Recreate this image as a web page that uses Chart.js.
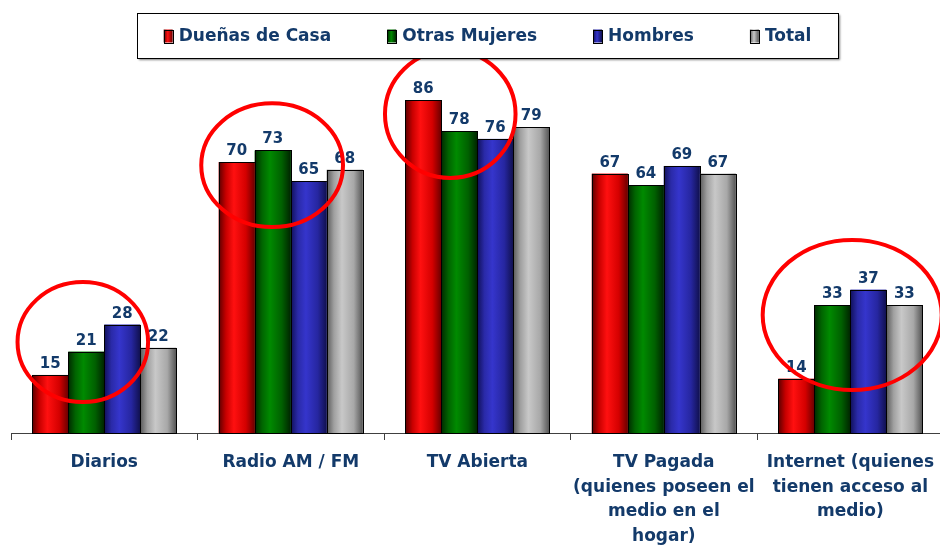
<!DOCTYPE html>
<html lang="es">
<head>
    <meta charset="UTF-8">
    <title>Medios por segmento</title>
    <script src="https://cdn.jsdelivr.net/npm/chart.js@4.4.0/dist/chart.umd.min.js"></script>
    <style>
        html, body {
            margin: 0;
            padding: 0;
            background: #ffffff;
            overflow: hidden;
        }
        .chart-wrapper {
            position: relative;
            width: 944px;
            height: 545px;
        }
    </style>
</head>
<body>
    <div class="chart-wrapper">
        <canvas id="mediosChart"></canvas>
    </div>

    <script>
        // Data
        const categories = [
            ['Diarios'],
            ['Radio AM / FM'],
            ['TV Abierta'],
            ['TV Pagada', '(quienes poseen el', 'medio en el', 'hogar)'],
            ['Internet (quienes', 'tienen acceso al', 'medio)']
        ];
        const seriesNames = ['Dueñas de Casa', 'Otras Mujeres', 'Hombres', 'Total'];
        const duenasCasa = [15, 70, 86, 67, 14];
        const otrasMujeres = [21, 73, 78, 64, 33];
        const hombres = [28, 65, 76, 69, 37];
        const totalGeneral = [22, 68, 79, 67, 33];

        // red circles drawn on the original slide (category index, shift, value, radii)
        const highlights = [
            { cat: 0, dx: -0.115, value: 23.5, rx: 0.35, ry: 15.5 },
            { cat: 1, dx: -0.10, value: 69.2, rx: 0.38, ry: 16 },
            { cat: 2, dx: -0.145, value: 82.4, rx: 0.35, ry: 16.5 },
            { cat: 4, dx: 0.01, value: 30.5, rx: 0.48, ry: 19.4 }
        ];

        const navy = '#133a6a';
        const fontFamily = '"DejaVu Sans", Verdana, sans-serif';

        // dark edge -> bright -> dark edge, like the cylinder bars of the slide
        const shades = [
            ['#5c0000', '#c80000', '#ff1010', '#d40000', '#6a0000'],
            ['#002a00', '#006400', '#008a00', '#006000', '#002400'],
            ['#10105a', '#2a2aa8', '#3535cc', '#2626a0', '#10104e'],
            ['#5a5a5a', '#a0a0a0', '#c8c8c8', '#a8a8a8', '#555555']
        ];

        const cylinderBars = {
            id: 'cylinderBars',
            afterDatasetsDraw(chart) {
                const ctx = chart.ctx;
                ctx.save();
                chart.data.datasets.forEach((ds, di) => {
                    const meta = chart.getDatasetMeta(di);
                    meta.data.forEach((el, i) => {
                        const left = el.x - el.width / 2;
                        const g = ctx.createLinearGradient(left, 0, left + el.width, 0);
                        const s = shades[di];
                        g.addColorStop(0, s[0]);
                        g.addColorStop(0.2, s[1]);
                        g.addColorStop(0.42, s[2]);
                        g.addColorStop(0.75, s[3]);
                        g.addColorStop(1, s[4]);
                        ctx.fillStyle = g;
                        ctx.fillRect(left, el.y, el.width, el.base - el.y);
                        ctx.strokeStyle = '#000000';
                        ctx.lineWidth = 1;
                        ctx.strokeRect(Math.round(left) + 0.5, Math.round(el.y) + 0.5,
                            Math.round(el.width), Math.round(el.base - el.y));
                    });
                });
                // value labels
                ctx.fillStyle = navy;
                ctx.font = 'bold 15px ' + fontFamily;
                ctx.textAlign = 'center';
                ctx.textBaseline = 'alphabetic';
                chart.data.datasets.forEach((ds, di) => {
                    chart.getDatasetMeta(di).data.forEach((el, i) => {
                        ctx.fillText(String(ds.data[i]), el.x, el.y - 7);
                    });
                });
                // red highlight circles
                const x = chart.scales.x, y = chart.scales.y;
                const catW = x.getPixelForValue(1) - x.getPixelForValue(0);
                ctx.strokeStyle = '#ff0000';
                ctx.lineWidth = 4;
                highlights.forEach(h => {
                    const cx = x.getPixelForValue(h.cat) + h.dx * catW;
                    const cy = y.getPixelForValue(h.value);
                    const ry = y.getPixelForValue(0) - y.getPixelForValue(h.ry);
                    ctx.beginPath();
                    ctx.ellipse(cx, cy, h.rx * catW, ry, 0, 0, Math.PI * 2);
                    ctx.stroke();
                });
                ctx.restore();
            }
        };

        const boxedLegend = {
            id: 'boxedLegend',
            afterDraw(chart) {
                const ctx = chart.ctx;
                const box = { left: 137, top: 13, right: 838, bottom: 58 };
                ctx.save();
                ctx.shadowColor = 'rgba(0,0,0,0.5)';
                ctx.shadowOffsetX = 2;
                ctx.shadowOffsetY = 2;
                ctx.shadowBlur = 2;
                ctx.fillStyle = '#ffffff';
                ctx.fillRect(box.left, box.top, box.right - box.left, box.bottom - box.top);
                ctx.shadowColor = 'transparent';
                ctx.strokeStyle = '#000000';
                ctx.lineWidth = 1;
                ctx.strokeRect(box.left + 0.5, box.top + 0.5, box.right - box.left, box.bottom - box.top);

                ctx.font = 'bold 17px ' + fontFamily;
                ctx.textBaseline = 'middle';
                ctx.textAlign = 'left';
                const markW = 9, markGap = 6, itemGap = 56;
                const widths = seriesNames.map(n => ctx.measureText(n).width);
                const totalW = widths.reduce((a, b) => a + b, 0) + seriesNames.length * (markW + markGap) + itemGap * (seriesNames.length - 1);
                let xPos = (box.left + box.right) / 2 - totalW / 2;
                const cy = (box.top + box.bottom) / 2;
                seriesNames.forEach((name, i) => {
                    const s = shades[i];
                    const g = ctx.createLinearGradient(xPos, 0, xPos + markW, 0);
                    g.addColorStop(0, s[0]);
                    g.addColorStop(0.45, s[2]);
                    g.addColorStop(1, s[4]);
                    ctx.fillStyle = g;
                    ctx.fillRect(xPos, cy - 6, markW, 13);
                    ctx.strokeStyle = '#000000';
                    ctx.strokeRect(Math.round(xPos) + 0.5, Math.round(cy - 6) + 0.5, markW, 13);
                    ctx.fillStyle = navy;
                    ctx.fillText(name, xPos + markW + markGap, cy + 1);
                    xPos += markW + markGap + widths[i] + itemGap;
                });
                ctx.restore();
            }
        };

        const seriesData = [duenasCasa, otrasMujeres, hombres, totalGeneral];

        new Chart(document.getElementById('mediosChart'), {
            type: 'bar',
            data: {
                labels: categories,
                datasets: seriesNames.map((name, i) => ({
                    label: name,
                    data: seriesData[i],
                    backgroundColor: shades[i][2],
                    borderWidth: 0,
                    categoryPercentage: 0.772,
                    barPercentage: 1
                }))
            },
            options: {
                responsive: true,
                maintainAspectRatio: false,
                animation: false,
                layout: {
                    padding: { top: 46, left: 11, right: 0, bottom: 0 }
                },
                plugins: {
                    legend: { display: false },
                    tooltip: { enabled: false }
                },
                scales: {
                    x: {
                        offset: true,
                        grid: {
                            offset: true,
                            drawOnChartArea: false,
                            drawTicks: true,
                            tickLength: 7,
                            color: '#404040',
                            tickColor: '#404040'
                        },
                        border: { display: true, color: '#404040', width: 1 },
                        ticks: {
                            color: navy,
                            autoSkip: false,
                            maxRotation: 0,
                            padding: 10,
                            font: { family: fontFamily, size: 17, weight: 'bold', lineHeight: 1.46 }
                        },
                        afterFit: scale => { scale.height = 112; }
                    },
                    y: {
                        display: false,
                        min: 0,
                        max: 100
                    }
                }
            },
            plugins: [cylinderBars, boxedLegend]
        });
    </script>
</body>
</html>
